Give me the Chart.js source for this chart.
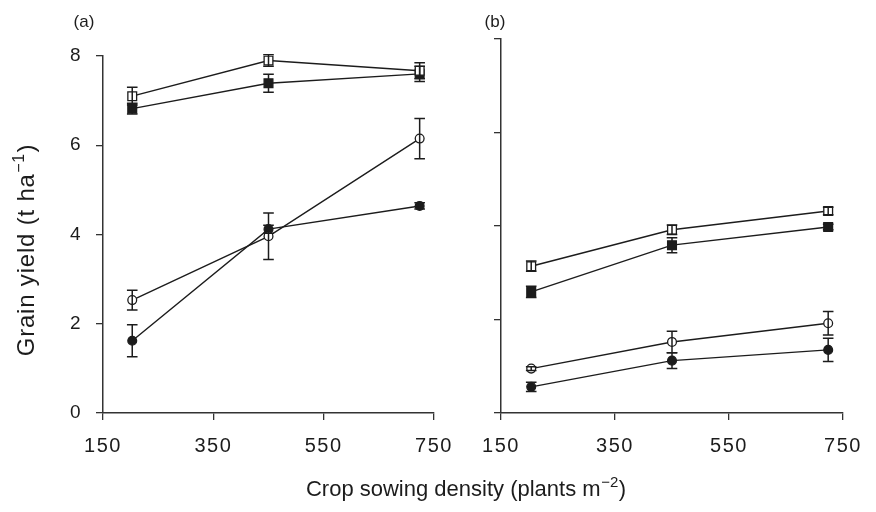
<!DOCTYPE html>
<html><head><meta charset="utf-8">
<script src="https://cdn.jsdelivr.net/npm/chart.js@4"></script>
<style>
html,body{margin:0;padding:0;background:#fff;}
#wrap{position:relative;width:876px;height:512px;overflow:hidden;}
canvas{position:absolute;left:0;top:0;}
</style></head><body>
<div id="wrap"><canvas id="ca" width="876" height="512"></canvas><canvas id="cb" width="876" height="512"></canvas></div>
<script>
// ---- data ----
const density = [203, 450, 724];
const xTicks = [150, 350, 550, 750];
const yTicks = [0, 2, 4, 6, 8];

// panel (a)
const aOpenSquare = [7.10, 7.90, 7.67];
const aOpenSquareErr = [0.20, 0.13, 0.18];
const aFilledSquare = [6.82, 7.39, 7.60];
const aFilledSquareErr = [0.12, 0.20, 0.17];
const aOpenCircle = [2.53, 3.96, 6.15];
const aOpenCircleErr = [0.22, 0.52, 0.45];
const aFilledCircle = [1.62, 4.12, 4.64];
const aFilledCircleErr = [0.36, 0.09, 0.07];

// panel (b)
const bOpenSquare = [3.14, 3.92, 4.32];
const bOpenSquareErr = [0.11, 0.10, 0.08];
const bFilledSquare = [2.59, 3.59, 3.98];
const bFilledSquareErr = [0.12, 0.16, 0.06];
const bOpenCircle = [0.95, 1.52, 1.92];
const bOpenCircleErr = [0.04, 0.23, 0.25];
const bFilledCircle = [0.56, 1.12, 1.35];
const bFilledCircleErr = [0.10, 0.17, 0.25];

const xTitle = ['Crop sowing density (plants m', '\u22122', ')'];
const yTitle = ['Grain yield (t ha', '\u22121', ')'];

// ---- styling ----
const INK = '#1c1c1c';
const FONT = '"Liberation Sans", Arial, Helvetica, sans-serif';

function pts(vals) { return density.map((x, i) => ({x: x, y: vals[i]})); }

function ds(vals, errs, shape, filled) {
  return {
    data: pts(vals),
    errors: errs,
    borderColor: INK,
    borderWidth: 1.4,
    pointStyle: shape,
    pointRadius: shape === 'rect' ? 6.2 : 4.4,
    pointBorderWidth: 1.3,
    pointBorderColor: INK,
    pointBackgroundColor: filled ? INK : '#ffffff',
    tension: 0,
    fill: false
  };
}

const spacing = {
  id: 'spacing',
  beforeDraw(chart) { chart.ctx.letterSpacing = '1.5px'; }
};

const errorBars = {
  id: 'errorBars',
  afterDatasetsDraw(chart) {
    const ctx = chart.ctx, xs = chart.scales.x, ys = chart.scales.y;
    ctx.save();
    ctx.strokeStyle = INK;
    ctx.lineWidth = 1.5;
    chart.data.datasets.forEach(d => {
      d.data.forEach((p, i) => {
        const e = d.errors[i];
        const px = xs.getPixelForValue(p.x);
        const y1 = ys.getPixelForValue(p.y + e);
        const y2 = ys.getPixelForValue(p.y - e);
        ctx.beginPath();
        ctx.moveTo(px, y1); ctx.lineTo(px, y2);
        ctx.moveTo(px - 5.3, y1); ctx.lineTo(px + 5.3, y1);
        ctx.moveTo(px - 5.3, y2); ctx.lineTo(px + 5.3, y2);
        ctx.stroke();
      });
    });
    ctx.restore();
  }
};

function drawSup(ctx, parts, size) {
  const mainFont = size + 'px ' + FONT;
  const supFont = Math.round(size * 0.68) + 'px ' + FONT;
  ctx.font = mainFont; const w1 = ctx.measureText(parts[0]).width;
  ctx.font = supFont; const w2 = ctx.measureText(parts[1]).width;
  ctx.font = mainFont; const w3 = ctx.measureText(parts[2]).width;
  const total = w1 + w2 + w3 + 1;
  let x = -total / 2;
  ctx.textAlign = 'left';
  ctx.textBaseline = 'alphabetic';
  ctx.font = mainFont; ctx.fillText(parts[0], x, 0); x += w1;
  ctx.font = supFont; ctx.fillText(parts[1], x + 0.5, -size * 0.42); x += w2 + 1;
  ctx.font = mainFont; ctx.fillText(parts[2], x, 0);
}

function textPlugin(label, labelDx, withTitles) {
  return {
    id: 'texts',
    afterDraw(chart) {
      const ctx = chart.ctx, area = chart.chartArea;
      ctx.save();
      ctx.letterSpacing = '0px';
      ctx.fillStyle = INK;
      ctx.font = '17px ' + FONT;
      ctx.textAlign = 'center';
      ctx.textBaseline = 'alphabetic';
      ctx.fillText(label, area.left + labelDx, 27);
      if (withTitles) {
        ctx.save();
        ctx.translate(466, 496);
        drawSup(ctx, xTitle, 22);
        ctx.restore();
        ctx.save();
        ctx.letterSpacing = '0.8px';
        ctx.translate(34, 250);
        ctx.rotate(-Math.PI / 2);
        drawSup(ctx, yTitle, 24);
        ctx.restore();
      }
      ctx.restore();
    }
  };
}

function makeChart(id, sets, pad, yWidth, showYLabels, label, labelDx, withTitles) {
  new Chart(document.getElementById(id), {
    type: 'line',
    data: {datasets: sets},
    options: {
      responsive: false,
      animation: false,
      devicePixelRatio: 1,
      layout: {autoPadding: false, padding: pad},
      plugins: {legend: {display: false}, tooltip: {enabled: false}, title: {display: false}},
      scales: {
        x: {
          type: 'linear', min: 150, max: 750,
          afterBuildTicks: s => { s.ticks = xTicks.map(v => ({value: v})); },
          afterFit: s => { s.height = 99; },
          grid: {display: true, drawOnChartArea: false, drawTicks: true, tickLength: 7, color: '#333', lineWidth: 1.3},
          border: {display: true, color: '#333', width: 1.5},
          ticks: {color: INK, font: {family: FONT, size: 20}, padding: 14, maxRotation: 0, autoSkip: false}
        },
        y: {
          type: 'linear', min: 0, max: 8,
          afterBuildTicks: s => { s.ticks = yTicks.map(v => ({value: v})); },
          afterFit: s => { s.width = yWidth; },
          grid: {display: true, drawOnChartArea: false, drawTicks: true, tickLength: 7, color: '#333', lineWidth: 1.3},
          border: {display: true, color: '#333', width: 1.5},
          ticks: {display: showYLabels, color: INK, font: {family: FONT, size: 19}, padding: 14}
        }
      }
    },
    plugins: [spacing, errorBars, textPlugin(label, labelDx, withTitles)]
  });
}

makeChart('ca', [
  ds(aOpenSquare, aOpenSquareErr, 'rect', false),
  ds(aFilledSquare, aFilledSquareErr, 'rect', true),
  ds(aOpenCircle, aOpenCircleErr, 'circle', false),
  ds(aFilledCircle, aFilledCircleErr, 'circle', true)
], {left: 0, top: 56, right: 876 - 434, bottom: 0}, 103, true, '(a)', -19, true);

makeChart('cb', [
  ds(bOpenSquare, bOpenSquareErr, 'rect', false),
  ds(bFilledSquare, bFilledSquareErr, 'rect', true),
  ds(bOpenCircle, bOpenCircleErr, 'circle', false),
  ds(bFilledCircle, bFilledCircleErr, 'circle', true)
], {left: 0, top: 39, right: 876 - 843, bottom: 0}, 501, false, '(b)', -6, false);
</script>
</body></html>
